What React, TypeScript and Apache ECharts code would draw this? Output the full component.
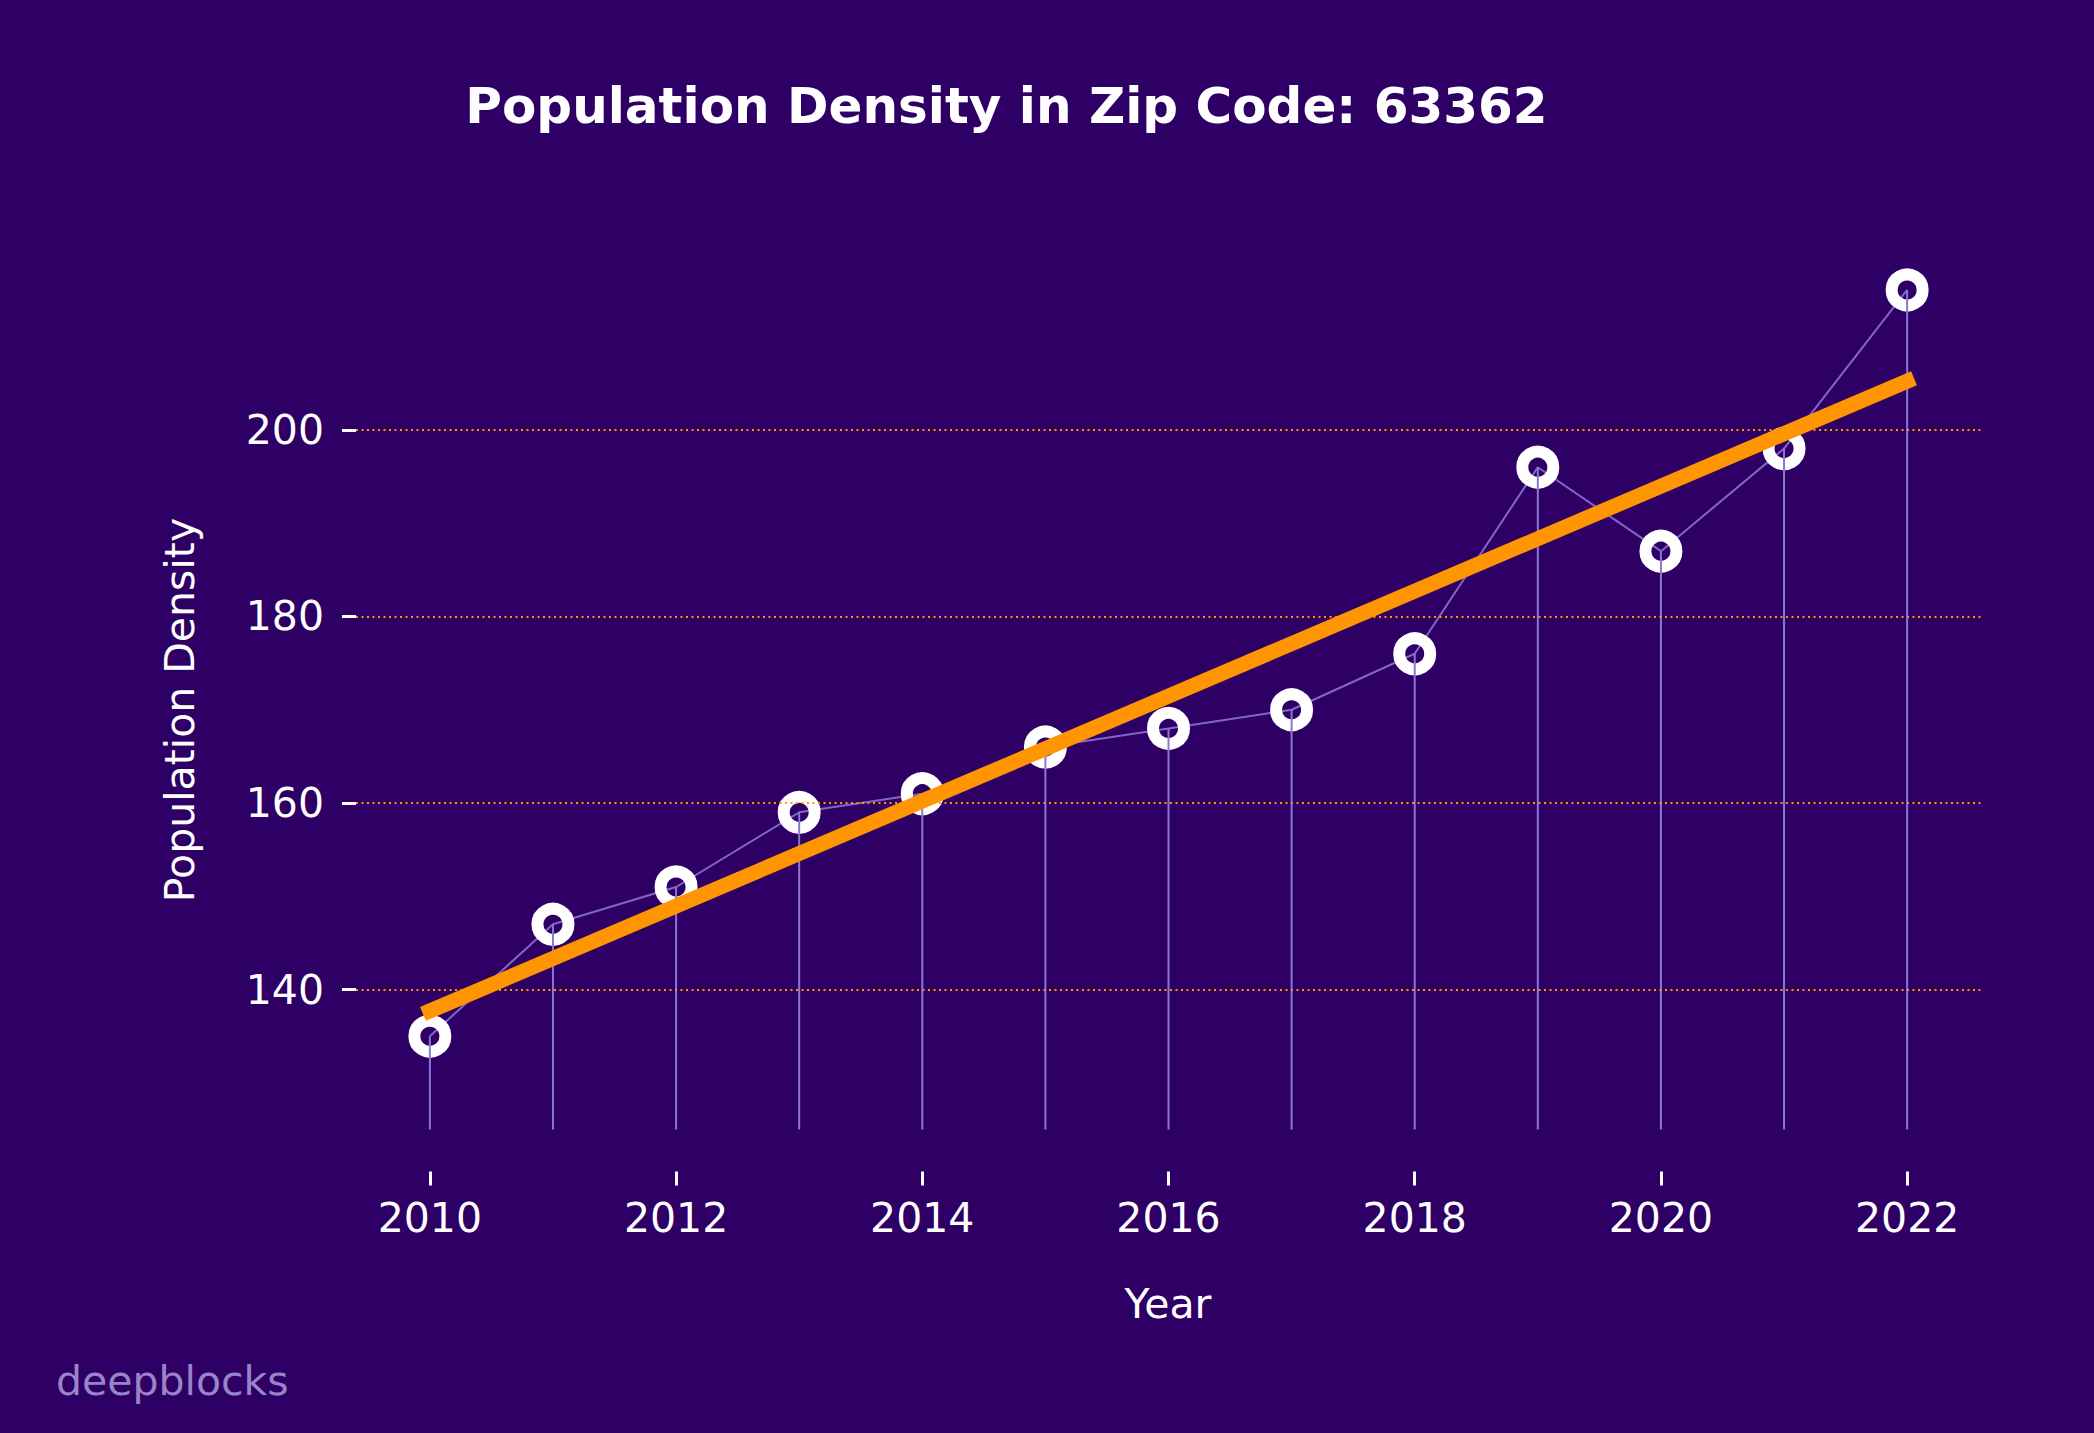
import React, { useEffect, useRef } from "react";
import * as echarts from "echarts";

const years = [2010, 2011, 2012, 2013, 2014, 2015, 2016, 2017, 2018, 2019, 2020, 2021, 2022];
const density = [135, 147, 151, 159, 161, 166, 168, 170, 176, 196, 187, 198, 215];
const xTickValues = [2010, 2012, 2014, 2016, 2018, 2020, 2022];
const yTickValues = [140, 160, 180, 200];
const STEM_BASE = 125;

const TITLE = "Population Density in Zip Code: 63362";
const X_NAME = "Year";
const Y_NAME = "Population Density";
const WATERMARK = "deepblocks";

const BG = "#2e0066";
const ORANGE = "#ff9500";
const STEM = "#8b76d6";
const FONT = "DejaVu Sans";

function linearFit(xs: number[], ys: number[]) {
  const n = xs.length;
  const mx = xs.reduce((a, b) => a + b, 0) / n;
  const my = ys.reduce((a, b) => a + b, 0) / n;
  let sxy = 0;
  let sxx = 0;
  for (let i = 0; i < n; i++) {
    sxy += (xs[i] - mx) * (ys[i] - my);
    sxx += (xs[i] - mx) * (xs[i] - mx);
  }
  const slope = sxy / sxx;
  const intercept = my - slope * mx;
  return (x: number) => intercept + slope * x;
}

export default function App() {
  const ref = useRef<HTMLDivElement>(null);

  useEffect(() => {
    document.body.style.margin = "0";
    if (!ref.current) return;
    const chart = echarts.init(ref.current, null, { renderer: "svg" });
    const fit = linearFit(years, density);
    const x0 = years[0];
    const x1 = years[years.length - 1];
    const trend = [
      [x0, fit(x0)],
      [x1, fit(x1)],
    ];
    const points = years.map((y, i) => [y, density[i]]);

    chart.setOption({
      animation: false,
      backgroundColor: BG,
      grid: {
        left: 356,
        right: 113,
        top: 248,
        bottom: 261.5,
        containLabel: false,
        outerBoundsMode: "none",
      },
      xAxis: {
        type: "value",
        min: 2009.4,
        max: 2022.6,
        axisLine: { show: false },
        splitLine: { show: false },
        axisTick: {
          show: true,
          customValues: xTickValues,
          length: 14,
          lineStyle: { color: "#ffffff", width: 3 },
        },
        axisLabel: {
          customValues: xTickValues,
          color: "#ffffff",
          fontFamily: FONT,
          fontSize: 41,
          margin: 26,
          formatter: (v: number) => String(v),
        },
      },
      yAxis: {
        type: "value",
        min: 120.5,
        max: 219.5,
        axisLine: { show: false },
        splitLine: { show: false },
        axisTick: {
          show: true,
          customValues: yTickValues,
          length: 14,
          lineStyle: { color: "#ffffff", width: 3 },
        },
        axisLabel: {
          customValues: yTickValues,
          color: "#ffffff",
          fontFamily: FONT,
          fontSize: 41,
          margin: 32,
          formatter: (v: number) => String(v),
        },
      },
      graphic: [
        {
          type: "text",
          x: 1006.5,
          y: 106,
          style: {
            text: TITLE,
            fill: "#ffffff",
            font: `bold 50px "${FONT}"`,
            textAlign: "center",
            textVerticalAlign: "middle",
          },
        },
        {
          type: "text",
          x: 1168,
          y: 1303.5,
          style: {
            text: X_NAME,
            fill: "#ffffff",
            font: `41px "${FONT}"`,
            textAlign: "center",
            textVerticalAlign: "middle",
          },
        },
        {
          type: "text",
          x: 180,
          y: 710,
          rotation: Math.PI / 2,
          style: {
            text: Y_NAME,
            fill: "#ffffff",
            font: `41px "${FONT}"`,
            textAlign: "center",
            textVerticalAlign: "middle",
          },
        },
        {
          type: "text",
          x: 56,
          y: 1381,
          style: {
            text: WATERMARK,
            fill: "#9a84c9",
            font: `41px "${FONT}"`,
            textAlign: "left",
            textVerticalAlign: "middle",
          },
        },
      ],
      series: [
        {
          type: "line",
          data: points,
          z: 1,
          symbol: "none",
          lineStyle: { color: "rgba(150,128,220,0.8)", width: 2 },
          markLine: {
            silent: true,
            symbol: "none",
            label: { show: false },
            lineStyle: { color: ORANGE, width: 2, type: [2, 3.5] },
            data: yTickValues.map((v) => ({ yAxis: v })),
          },
        },
        {
          type: "scatter",
          data: points,
          z: 2,
          symbol: "circle",
          symbolSize: 31,
          itemStyle: {
            color: "rgba(0,0,0,0)",
            borderColor: "#ffffff",
            borderWidth: 12,
            opacity: 1,
          },
        },
        {
          type: "custom",
          z: 3,
          data: points,
          renderItem: (params: any, api: any) => {
            const top = api.coord([api.value(0), api.value(1)]);
            const bot = api.coord([api.value(0), STEM_BASE]);
            return {
              type: "line",
              shape: { x1: top[0], y1: top[1], x2: bot[0], y2: bot[1] },
              style: { stroke: STEM, lineWidth: 2 },
            };
          },
        },
        {
          type: "line",
          data: trend,
          z: 4,
          symbol: "none",
          lineStyle: { color: ORANGE, width: 15, cap: "square" },
        },
      ],
    });

    return () => {
      chart.dispose();
    };
  }, []);

  return <div ref={ref} style={{ width: 2094, height: 1433 }} />;
}
